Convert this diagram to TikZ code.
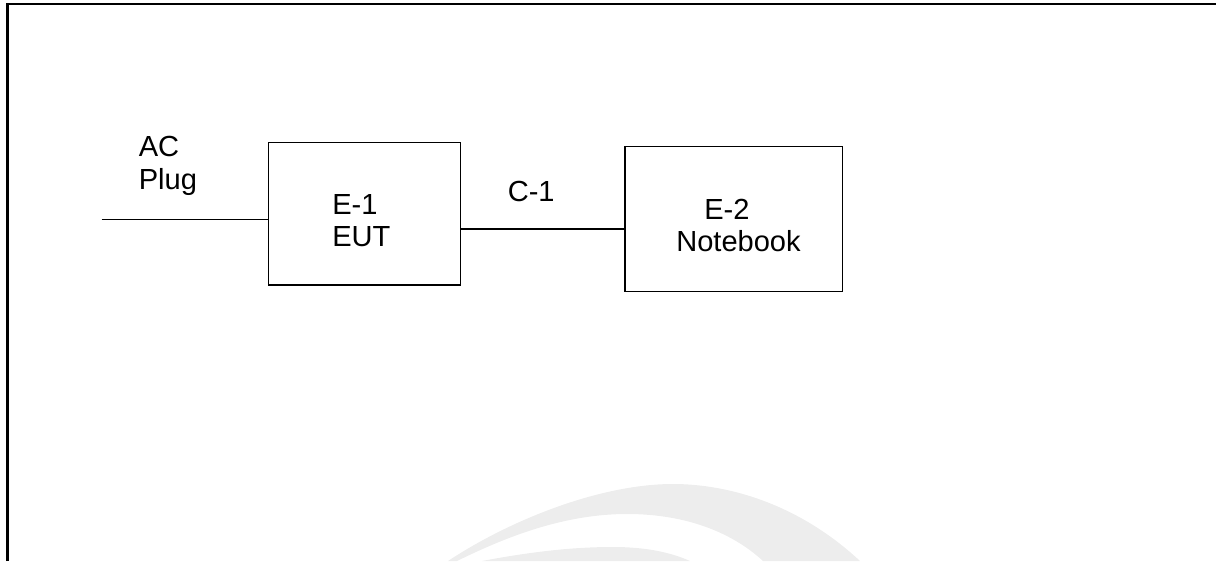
\documentclass[tikz,border=0pt]{standalone}
\usepackage{fontspec}
\setmainfont{Liberation Sans}
\usetikzlibrary{positioning}
\definecolor{markgray}{RGB}{237,237,237}

\begin{document}
\begin{tikzpicture}[x=0.75pt,y=-0.75pt]
          \tikzset{unitbox/.style={draw,line width=1pt,inner sep=0pt,outer sep=0pt},
                   boxlabel/.style={align=left,anchor=base west,inner sep=0pt,font=\fontsize{21.8}{24.2}\selectfont},
                   cable/.style={line width=0.9pt}}
          \useasboundingbox (0,0) rectangle (1216,561);
          % watermark in the lower part
          \begin{scope}
            \clip (0,0) rectangle (1216,561);
            \fill[markgray] (448,561) .. controls (510,520) and (600,484) .. (673,484)
              .. controls (730,484) and (800,505) .. (860,561)
              -- (763,561) .. controls (735,535) and (690,514) .. (627,514)
              .. controls (560,514) and (500,540) .. (457,561) -- cycle;
            \fill[markgray] (482,561) .. controls (540,550) and (580,547) .. (613,547)
              .. controls (645,547) and (670,552) .. (690,561) -- cycle;
          \end{scope}
          % frame
          \draw[line width=1.6pt] (7.5,561) -- (7.5,4) -- (1216,4);
          % units
          \node[unitbox,minimum width=144.3pt,minimum height=107pt] (eut) at (364.5,213.7) {};
          \node[unitbox,minimum width=163pt,minimum height=108.75pt] (nb) at (733.7,219.2) {};
          \node[boxlabel] (eutlabel) at (332,246.7) {E-1\\EUT};
          \node[boxlabel] (nblabel) at (676,251.7) {\hspace*{21pt}E-2\\Notebook};
          % cables
          \coordinate (acend) at (101.7,219.3);
          \coordinate (c1mid) at (540,229);
          \draw[cable] (acend) -- (acend -| eut.west);
          \draw[cable] (c1mid -| eut.east) -- (c1mid -| nb.west);
          \node[boxlabel] (aclabel) at (138.5,189) {AC\\Plug};
          \node[boxlabel] (c1label) at (507.5,201.7) {C-1};
        \end{tikzpicture}
\end{document}
